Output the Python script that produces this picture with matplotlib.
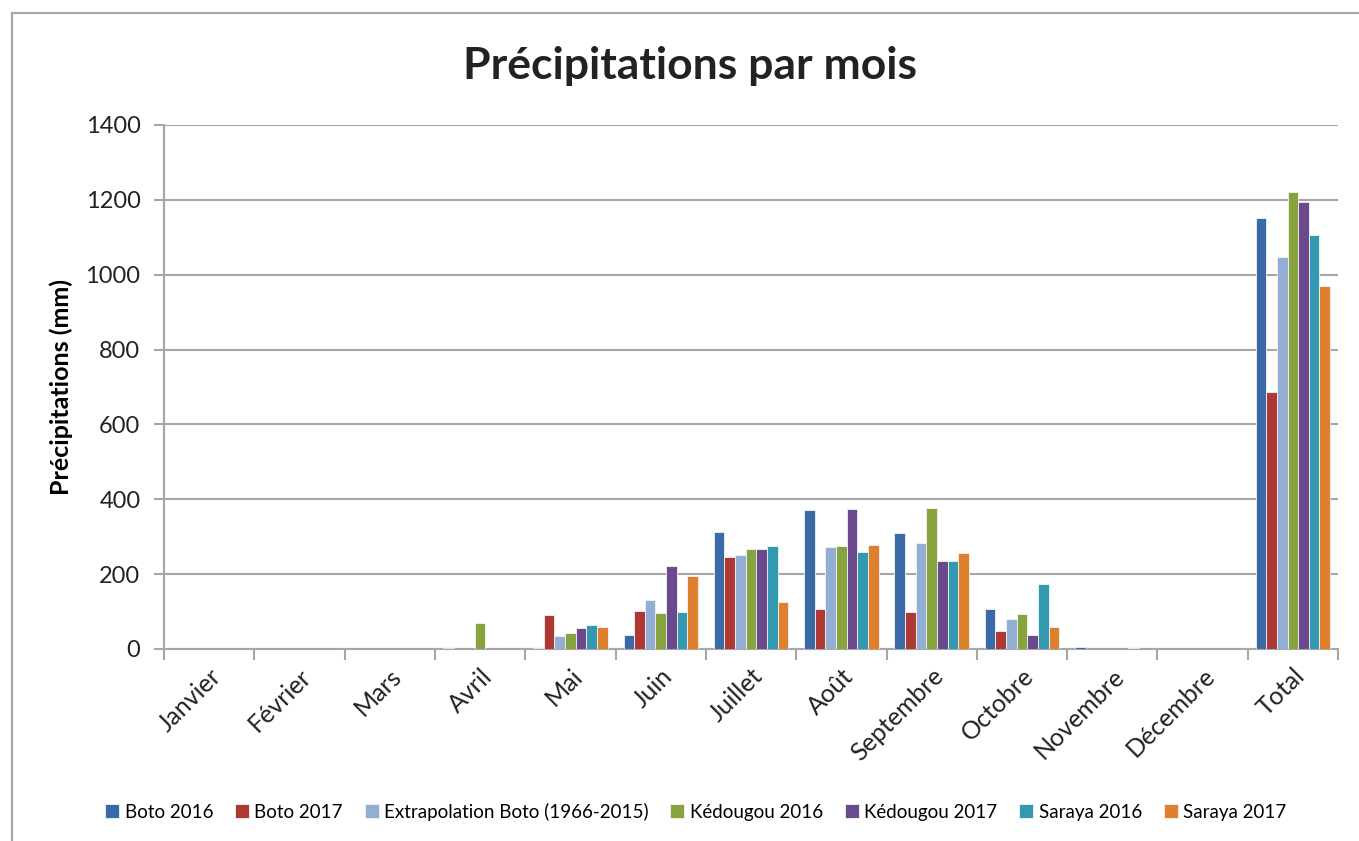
import numpy as np
import matplotlib.pyplot as plt
from matplotlib.lines import Line2D

plt.rcParams['font.family'] = ['Lato', 'DejaVu Sans']

mois = ['Janvier', 'Février', 'Mars', 'Avril', 'Mai', 'Juin', 'Juillet',
        'Août', 'Septembre', 'Octobre', 'Novembre', 'Décembre', 'Total']

series = ['Boto 2016', 'Boto 2017', 'Extrapolation Boto (1966-2015)',
          'Kédougou 2016', 'Kédougou 2017', 'Saraya 2016', 'Saraya 2017']

boto_2016 = [0, 0, 0, 2, 3, 37, 313, 371, 310, 106, 5, 0, 1152]
boto_2017 = [0, 0, 0, 0, 92, 102, 246, 107, 99, 48, 0, 0, 687]
extrap_boto = [0, 0, 0, 0, 35, 131, 251, 272, 283, 79, 0, 0, 1047]
kedougou_2016 = [0, 0, 0, 70, 44, 95, 267, 275, 377, 93, 0, 0, 1222]
kedougou_2017 = [0, 0, 0, 0, 57, 222, 267, 374, 235, 37, 0, 0, 1193]
saraya_2016 = [0, 0, 0, 0, 63, 99, 275, 259, 235, 174, 3, 0, 1106]
saraya_2017 = [0, 0, 0, 0, 60, 195, 126, 278, 256, 60, 0, 0, 970]

colors = ['#3A6BA8', '#AD3834', '#94ADD5', '#86A33E', '#6A4A8C', '#3399B0', '#DE802E']

values = [boto_2016, boto_2017, extrap_boto, kedougou_2016,
          kedougou_2017, saraya_2016, saraya_2017]

fig = plt.figure(figsize=(13.59, 8.41), dpi=100)
ax = fig.add_axes([0.1207, 0.2283, 0.8639, 0.6231])

x = np.arange(len(mois))
w = 1 / 8.5
for i, (name, vals) in enumerate(zip(series, values)):
    ax.bar(x + (i - 3) * w, vals, width=w, color=colors[i], label=name,
           edgecolor='#F4F4F4', linewidth=0.6, zorder=3)

ax.set_xlim(-0.5, len(mois) - 0.5)
ax.set_ylim(0, 1400)
ax.set_yticks(range(0, 1401, 200))
ax.yaxis.grid(True, color='#A6A6A6', linewidth=1.5, zorder=0)
ax.set_xticks(x)
ax.set_xticklabels(mois, rotation=45, ha='right', rotation_mode='anchor', fontsize=18, color='#222222')
ax.set_xticks(np.arange(-0.5, len(mois), 1), minor=True)
ax.tick_params(axis='x', which='major', length=0, pad=11)
ax.tick_params(axis='x', which='minor', length=8, width=1.5, color='#A6A6A6')
ax.tick_params(axis='y', length=7, width=1.5, color='#A6A6A6', labelsize=17, labelcolor='#222222', pad=10)

for s in ['top', 'right']:
    ax.spines[s].set_visible(False)
for s in ['left', 'bottom']:
    ax.spines[s].set_color('#A6A6A6')
    ax.spines[s].set_linewidth(1.5)

ax.set_ylabel('Précipitations (mm)', fontsize=18, fontweight='bold', labelpad=9)
fig.text(0.508, 0.922, 'Précipitations par mois', ha='center', va='center',
         fontsize=32, fontweight='bold', color='#222222')

fig.legend(loc='center', bbox_to_anchor=(0.512, 0.035), ncol=7, frameon=False,
           fontsize=13.5, handlelength=0.75, handleheight=0.75, handletextpad=0.3,
           columnspacing=1.15)

# cadre du graphique
fig.add_artist(Line2D([12 / 1359, 12 / 1359], [0, 1 - 13 / 841], color='#A6A6A6', lw=1.5))
fig.add_artist(Line2D([12 / 1359, 1], [1 - 13 / 841, 1 - 13 / 841], color='#A6A6A6', lw=1.5))

plt.savefig('out.png')
plt.close()
